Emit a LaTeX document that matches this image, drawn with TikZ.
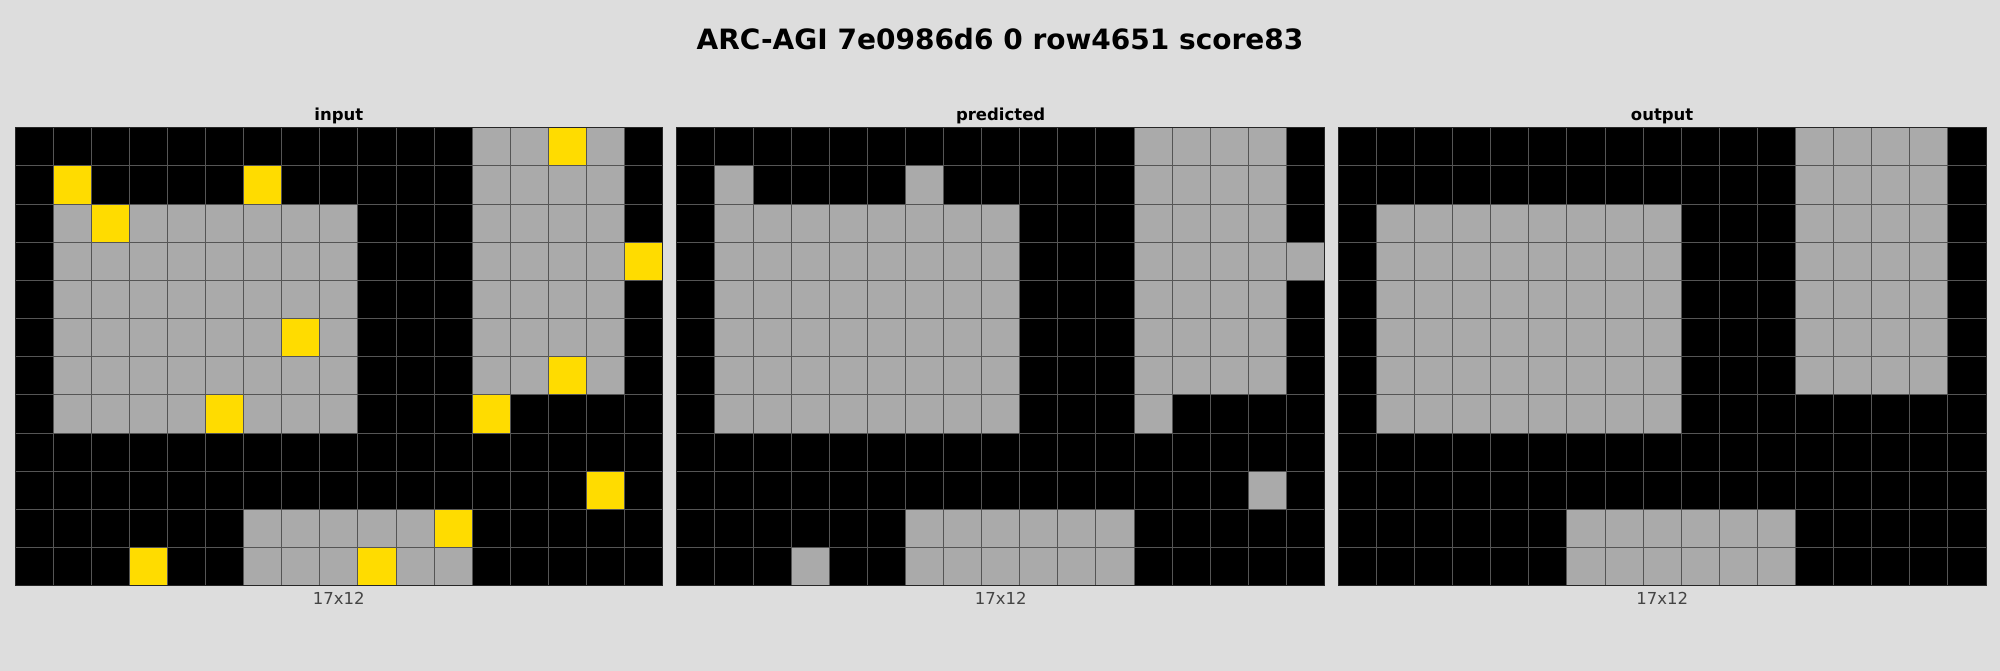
\documentclass[tikz,border=0pt]{standalone}
\usepackage{fontspec}
\setmainfont{DejaVu Sans}
\definecolor{bg}{HTML}{DDDDDD}
\definecolor{arcgray}{HTML}{AAAAAA}
\definecolor{arcyellow}{HTML}{FFDC00}
\definecolor{gridline}{HTML}{555555}
\definecolor{labelgray}{HTML}{444444}
\colorlet{c0}{black}
\colorlet{c5}{arcgray}
\colorlet{c4}{arcyellow}
\newcommand\arcgrid[2]{%
  \begin{scope}[shift={(#1,127.7)}]
    \foreach \row [count=\r from 0] in {#2} {
      \foreach \v [count=\k from 0] in \row {
        \fill[c\v] (\k*38.1,\r*38.17) rectangle ++(38.1,38.17);
      }
    }
    \foreach \i in {1,...,16} { \draw[gridlinestyle] (\i*38.1,0) -- (\i*38.1,458); }
    \foreach \j in {1,...,11} { \draw[gridlinestyle] (0,\j*38.17) -- (647.7,\j*38.17); }
    \draw[borderstyle] (0,0) rectangle (647.7,458);
  \end{scope}}
\begin{document}
\begin{tikzpicture}[x=1pt,y=-1pt,
  gridlinestyle/.style={draw=gridline, line width=1pt},
  borderstyle/.style={draw=black!85, line width=1pt},
  maintitle/.style={anchor=base, font=\fontsize{28}{34}\selectfont\bfseries},
  subtitle/.style={anchor=base, font=\fontsize{16.5}{20}\selectfont\bfseries},
  sizelabel/.style={anchor=base, text=labelgray, font=\fontsize{16.5}{20}\selectfont}]
\fill[bg] (0,0) rectangle (2000,671);
\useasboundingbox (0,0) rectangle (2000,671);
\node[maintitle] (title) at (1000,49.3) {ARC-AGI 7e0986d6 0 row4651 score83};

% input
\arcgrid{15}{
 {0,0,0,0,0,0,0,0,0,0,0,0,5,5,4,5,0},
 {0,4,0,0,0,0,4,0,0,0,0,0,5,5,5,5,0},
 {0,5,4,5,5,5,5,5,5,0,0,0,5,5,5,5,0},
 {0,5,5,5,5,5,5,5,5,0,0,0,5,5,5,5,4},
 {0,5,5,5,5,5,5,5,5,0,0,0,5,5,5,5,0},
 {0,5,5,5,5,5,5,4,5,0,0,0,5,5,5,5,0},
 {0,5,5,5,5,5,5,5,5,0,0,0,5,5,4,5,0},
 {0,5,5,5,5,4,5,5,5,0,0,0,4,0,0,0,0},
 {0,0,0,0,0,0,0,0,0,0,0,0,0,0,0,0,0},
 {0,0,0,0,0,0,0,0,0,0,0,0,0,0,0,4,0},
 {0,0,0,0,0,0,5,5,5,5,5,4,0,0,0,0,0},
 {0,0,0,4,0,0,5,5,5,4,5,5,0,0,0,0,0}}
\node[subtitle] (tin) at (338.85,120.7) {input};
\node[sizelabel] (lin) at (338.85,604) {17x12};

% predicted
\arcgrid{676.8}{
 {0,0,0,0,0,0,0,0,0,0,0,0,5,5,5,5,0},
 {0,5,0,0,0,0,5,0,0,0,0,0,5,5,5,5,0},
 {0,5,5,5,5,5,5,5,5,0,0,0,5,5,5,5,0},
 {0,5,5,5,5,5,5,5,5,0,0,0,5,5,5,5,5},
 {0,5,5,5,5,5,5,5,5,0,0,0,5,5,5,5,0},
 {0,5,5,5,5,5,5,5,5,0,0,0,5,5,5,5,0},
 {0,5,5,5,5,5,5,5,5,0,0,0,5,5,5,5,0},
 {0,5,5,5,5,5,5,5,5,0,0,0,5,0,0,0,0},
 {0,0,0,0,0,0,0,0,0,0,0,0,0,0,0,0,0},
 {0,0,0,0,0,0,0,0,0,0,0,0,0,0,0,5,0},
 {0,0,0,0,0,0,5,5,5,5,5,5,0,0,0,0,0},
 {0,0,0,5,0,0,5,5,5,5,5,5,0,0,0,0,0}}
\node[subtitle] (tpr) at (1000.65,120.7) {predicted};
\node[sizelabel] (lpr) at (1000.65,604) {17x12};

% output
\arcgrid{1338.3}{
 {0,0,0,0,0,0,0,0,0,0,0,0,5,5,5,5,0},
 {0,0,0,0,0,0,0,0,0,0,0,0,5,5,5,5,0},
 {0,5,5,5,5,5,5,5,5,0,0,0,5,5,5,5,0},
 {0,5,5,5,5,5,5,5,5,0,0,0,5,5,5,5,0},
 {0,5,5,5,5,5,5,5,5,0,0,0,5,5,5,5,0},
 {0,5,5,5,5,5,5,5,5,0,0,0,5,5,5,5,0},
 {0,5,5,5,5,5,5,5,5,0,0,0,5,5,5,5,0},
 {0,5,5,5,5,5,5,5,5,0,0,0,0,0,0,0,0},
 {0,0,0,0,0,0,0,0,0,0,0,0,0,0,0,0,0},
 {0,0,0,0,0,0,0,0,0,0,0,0,0,0,0,0,0},
 {0,0,0,0,0,0,5,5,5,5,5,5,0,0,0,0,0},
 {0,0,0,0,0,0,5,5,5,5,5,5,0,0,0,0,0}}
\node[subtitle] (tout) at (1662.15,120.7) {output};
\node[sizelabel] (lout) at (1662.15,604) {17x12};
\end{tikzpicture}
\end{document}
